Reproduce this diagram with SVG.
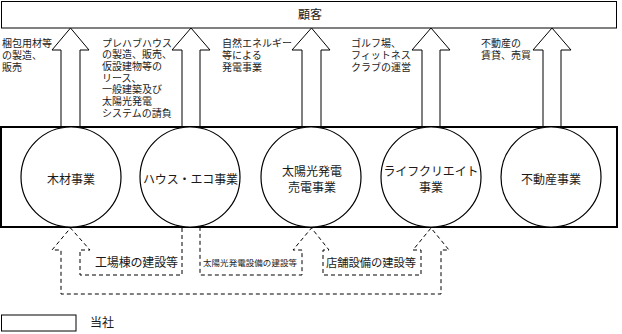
<svg xmlns="http://www.w3.org/2000/svg" width="622" height="334" viewBox="0 0 622 334">
<style>
text{font-family:"Liberation Serif","Noto Sans CJK JP",serif;fill:#1a1a1a;dominant-baseline:central}
.lbl{font-size:10px}
.c{font-size:12px;text-anchor:middle}
.box{fill:#fff;stroke:#000;stroke-width:1}
.main{fill:none;stroke:#000;stroke-width:2}
.circ{fill:#fff;stroke:#000;stroke-width:1.2}
.arr{fill:#fff;stroke:#000;stroke-width:1}
.dash{fill:none;stroke:#000;stroke-width:1;stroke-dasharray:4 3}
</style>
<g id="customer">
<rect class="box" x="1.5" y="1.5" width="615" height="26.5"/>
<text class="c" x="310" y="15">顧客</text>
</g>
<g id="connectors">
<path class="arr" d="M61,127 V50 H52 L70.5,28 L89,50 H80 V127"/>
<path class="arr" d="M182,127 V50 H172 L191,28 L210,50 H200 V127"/>
<path class="arr" d="M302,127 V50 H292 L311.5,28 L330,50 H321 V127"/>
<path class="arr" d="M422,127 V50 H412 L431,28 L450,50 H440 V127"/>
<path class="arr" d="M543,127 V50 H533 L552,28 L571,50 H561 V127"/>
<path class="dash" d="M182,228 V275 H80 V250 H90 L70.5,228 L52,250 H61 V294 H441 V250 H449 L431,228 L413,250 H421 V275 H323 V250 H329 L311.5,228 L293,250 H302 V275 H200 V228"/>
</g>
<g id="label-wood">
<text class="lbl" x="2" y="43">梱包用材等</text>
<text class="lbl" x="2" y="55">の製造、</text>
<text class="lbl" x="2" y="67">販売</text>
</g>
<g id="label-house">
<text class="lbl" x="102" y="43">プレハブハウス</text>
<text class="lbl" x="102" y="54.7">の製造、販売、</text>
<text class="lbl" x="102" y="66.4">仮設建物等の</text>
<text class="lbl" x="102" y="78.1">リース、</text>
<text class="lbl" x="102" y="89.8">一般建築及び</text>
<text class="lbl" x="102" y="101.5">太陽光発電</text>
<text class="lbl" x="102" y="113.2">システムの請負</text>
</g>
<g id="label-solar">
<text class="lbl" x="222" y="43">自然エネルギー</text>
<text class="lbl" x="222" y="55">等による</text>
<text class="lbl" x="222" y="67">発電事業</text>
</g>
<g id="label-life">
<text class="lbl" x="351" y="43">ゴルフ場、</text>
<text class="lbl" x="351" y="55">フィットネス</text>
<text class="lbl" x="351" y="67">クラブの運営</text>
</g>
<g id="label-estate">
<text class="lbl" x="481" y="43">不動産の</text>
<text class="lbl" x="481" y="55">賃貸、売買</text>
</g>
<g id="company">
<rect class="main" x="1" y="127" width="616" height="100"/>
</g>
<g id="n-wood">
<circle class="circ" cx="71" cy="177" r="50"/>
<text class="c" x="71" y="180">木材事業</text>
</g>
<g id="n-house">
<circle class="circ" cx="190" cy="177" r="50"/>
<text class="c" x="190.5" y="180" textLength="95">ハウス・エコ事業</text>
</g>
<g id="n-solar">
<circle class="circ" cx="311" cy="177" r="50"/>
<text class="c" x="312" y="172">太陽光発電</text>
<text class="c" x="312" y="188">売電事業</text>
</g>
<g id="n-life">
<circle class="circ" cx="431" cy="177" r="50"/>
<text class="c" x="431" y="172" textLength="95">ライフクリエイト</text>
<text class="c" x="431" y="188">事業</text>
</g>
<g id="n-estate">
<circle class="circ" cx="551" cy="177" r="50"/>
<text class="c" x="551" y="180">不動産事業</text>
</g>
<g id="label-factory">
<text x="95" y="263" font-size="12" textLength="83">工場棟の建設等</text>
</g>
<g id="label-solarbuild">
<text x="203" y="263" font-size="8.5" textLength="94">太陽光発電設備の建設等</text>
</g>
<g id="label-store">
<text x="326" y="263" font-size="11.3" textLength="90">店舗設備の建設等</text>
</g>
<g id="legend">
<rect class="box" x="1.5" y="315" width="74.5" height="16" stroke-width="1.5"/>
<text x="90" y="323" font-size="12">当社</text>
</g>
</svg>
